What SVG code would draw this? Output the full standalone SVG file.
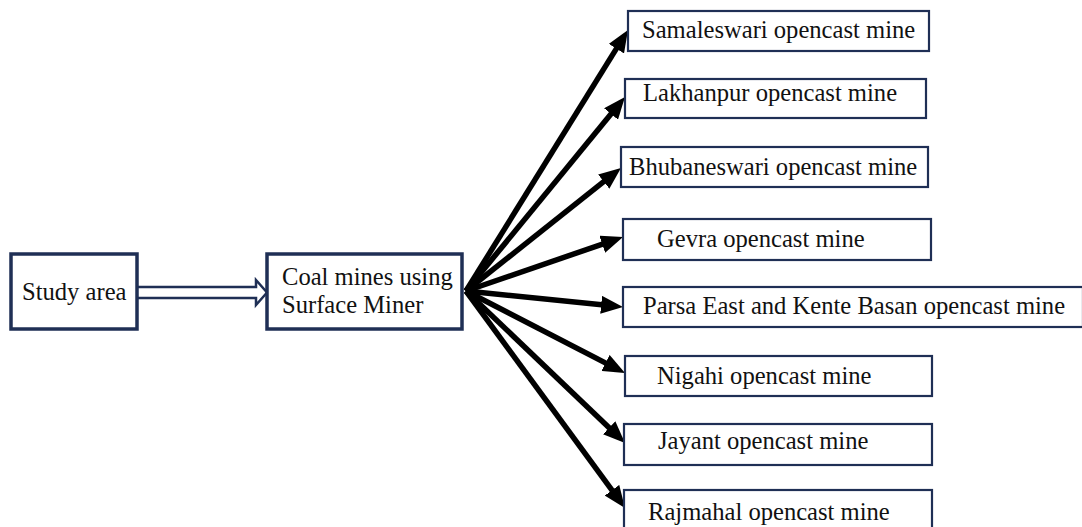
<svg xmlns="http://www.w3.org/2000/svg" width="1082" height="527" viewBox="0 0 1082 527">
<style>
  .box { fill: #ffffff; stroke: #1f2f55; stroke-width: 2.2; }
  .bigbox { fill: #ffffff; stroke: #1f2f55; stroke-width: 3.5; }
  .lbl { font-family: "Liberation Serif", "Times New Roman", serif; font-size: 24.6px; fill: #111111; }
  .arrow { stroke: #000000; stroke-width: 5.5; fill: none; marker-end: url(#head); }
  .hollow { fill: #ffffff; stroke: #1f2f55; stroke-width: 2.5; stroke-linejoin: miter; }
</style>
<defs>
  <marker id="head" viewBox="0 0 22 18" markerWidth="22" markerHeight="18" refX="8" refY="9" orient="auto" markerUnits="userSpaceOnUse">
    <path d="M0,0 L22,9 L0,18 z" fill="#000000"/>
  </marker>
</defs>
<rect width="1082" height="527" fill="#ffffff"/>

<g id="connectors">
  <path class="hollow" d="M138,287 L256,287 L256,280 L267,292.5 L256,305 L256,298 L138,298"/>
  <line class="arrow" x1="466" y1="291" x2="620.6" y2="41.9"/>
  <line class="arrow" x1="466" y1="291" x2="616.1" y2="107.8"/>
  <line class="arrow" x1="466" y1="291" x2="610.0" y2="176.7"/>
  <line class="arrow" x1="466" y1="291" x2="609.8" y2="241.6"/>
  <line class="arrow" x1="466" y1="291" x2="609.1" y2="305.6"/>
  <line class="arrow" x1="466" y1="291" x2="612.6" y2="366.6"/>
  <line class="arrow" x1="466" y1="291" x2="614.9" y2="433.3"/>
  <line class="arrow" x1="466" y1="291" x2="616.7" y2="496.7"/>
</g>

<g id="study-area">
  <rect class="bigbox" x="11" y="254" width="126" height="75"/>
  <text class="lbl" x="22" y="300">Study area</text>
</g>

<g id="coal-mines">
  <rect class="bigbox" x="267" y="254" width="195" height="75"/>
  <text class="lbl" x="282" y="285">Coal mines using</text>
  <text class="lbl" x="282" y="313">Surface Miner</text>
</g>

<g id="samaleswari">
  <rect class="box" x="628" y="11" width="301" height="40"/>
  <text class="lbl" x="642" y="38">Samaleswari opencast mine</text>
</g>

<g id="lakhanpur">
  <rect class="box" x="625" y="79" width="301" height="39"/>
  <text class="lbl" x="643" y="101">Lakhanpur opencast mine</text>
</g>

<g id="bhubaneswari">
  <rect class="box" x="621" y="147" width="307" height="40"/>
  <text class="lbl" x="629" y="175">Bhubaneswari opencast mine</text>
</g>

<g id="gevra">
  <rect class="box" x="623" y="219" width="308" height="41"/>
  <text class="lbl" x="657" y="247">Gevra opencast mine</text>
</g>

<g id="parsa">
  <rect class="box" x="623" y="287" width="460" height="40"/>
  <text class="lbl" x="643" y="314">Parsa East and Kente Basan opencast mine</text>
</g>

<g id="nigahi">
  <rect class="box" x="625" y="356" width="307" height="40"/>
  <text class="lbl" x="657" y="384">Nigahi opencast mine</text>
</g>

<g id="jayant">
  <rect class="box" x="624" y="424" width="308" height="41"/>
  <text class="lbl" x="658" y="449">Jayant opencast mine</text>
</g>

<g id="rajmahal">
  <rect class="box" x="624" y="490" width="308" height="45"/>
  <text class="lbl" x="648" y="520">Rajmahal opencast mine</text>
</g>
</svg>
